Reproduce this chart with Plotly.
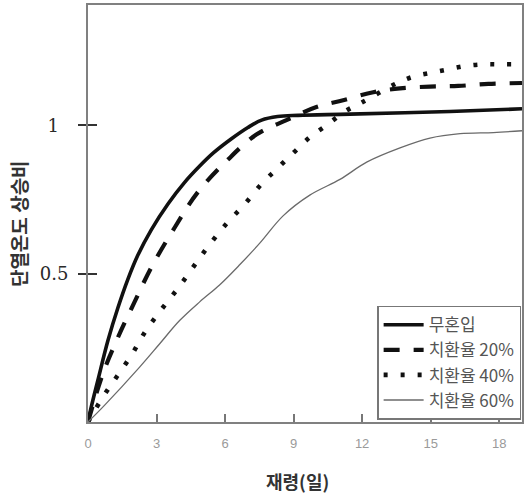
import plotly.graph_objects as go

# ---- data ----
series_names = ["무혼입", "치환율 20%", "치환율 40%", "치환율 60%"]

x_plain = [0, 0.14, 0.43, 0.87, 1.31, 1.74, 2.18, 2.77, 3.50, 4.23, 4.89, 5.50, 6.28, 7.00, 7.60, 8.30, 9.20, 11.46, 15.85, 19.0]
y_plain = [0, 0.050, 0.140, 0.274, 0.385, 0.480, 0.562, 0.648, 0.735, 0.808, 0.863, 0.908, 0.955, 0.993, 1.018, 1.030, 1.034, 1.038, 1.047, 1.056]

x_20 = [0, 0.65, 1.31, 2.04, 2.77, 3.79, 4.81, 6.13, 7.37, 8.69, 10.0, 11.17, 12.49, 13.66, 14.97, 16.21, 17.53, 19.0]
y_20 = [0, 0.163, 0.285, 0.405, 0.521, 0.655, 0.775, 0.885, 0.969, 1.018, 1.062, 1.085, 1.112, 1.125, 1.131, 1.133, 1.140, 1.143]

x_40 = [0, 0.65, 1.28, 1.94, 2.52, 3.21, 3.94, 4.63, 5.33, 6.09, 6.83, 7.58, 8.29, 9.01, 9.71, 10.47, 11.25, 11.98, 13.51, 14.27, 15.05, 15.82, 16.58, 17.31, 18.07, 19.0]
y_40 = [0, 0.084, 0.155, 0.230, 0.306, 0.379, 0.451, 0.525, 0.599, 0.671, 0.732, 0.801, 0.855, 0.909, 0.960, 1.002, 1.047, 1.077, 1.142, 1.165, 1.178, 1.190, 1.201, 1.206, 1.206, 1.206]

x_60 = [0, 0.72, 2.26, 3.13, 4.01, 4.89, 5.76, 6.64, 7.52, 8.54, 9.71, 11.03, 12.20, 13.66, 14.97, 16.29, 17.75, 19.0]
y_60 = [0, 0.056, 0.185, 0.263, 0.342, 0.405, 0.462, 0.530, 0.603, 0.695, 0.765, 0.818, 0.876, 0.924, 0.957, 0.972, 0.976, 0.982]

x_ticks = [0, 3, 6, 9, 12, 15, 18]
y_ticks = [0.5, 1]
y_tick_text = ["0.5", "1\u00a0\u2009"]

x_title = "재령(일)"
y_title = "단열온도 상승비"

# ---- figure ----
fig = go.Figure()
styles = [
    dict(color="#111111", width=3.6, dash="solid"),
    dict(color="#111111", width=4.2, dash="16px,14px"),
    dict(color="#111111", width=4.6, dash="4px,13px"),
    dict(color="#6a6a6a", width=1.3, dash="solid"),
]
for name, xs, ys, st in zip(series_names, [x_plain, x_20, x_40, x_60],
                            [y_plain, y_20, y_40, y_60], styles):
    fig.add_trace(go.Scatter(x=xs, y=ys, mode="lines", name=name,
                             line=dict(shape="spline", smoothing=1.0, **st)))

fig.update_layout(
    width=532, height=495,
    margin=dict(l=88, r=10, t=3, b=73),
    paper_bgcolor="white", plot_bgcolor="white",
    showlegend=True,
    legend=dict(x=0.998, y=0.279, xanchor="right", yanchor="top",
                bgcolor="white", bordercolor="#777777", borderwidth=1.5,
                font=dict(family="Noto Sans CJK KR", size=17, color="#555555"),
                tracegroupgap=0, itemwidth=40),
    xaxis=dict(range=[0, 19], tickvals=x_ticks, ticks="inside", ticklen=8,
               tickwidth=1.5, tickcolor="#777777", showgrid=False, zeroline=False,
               showline=True, linecolor="#808080", linewidth=2, mirror=True,
               ticklabelstandoff=8,
               tickfont=dict(family="Liberation Sans", size=13, color="#9a9a9a")),
    yaxis=dict(range=[0, 1.406], tickvals=y_ticks, ticktext=y_tick_text,
               ticks="outside", ticklen=8, tickwidth=1.8, tickcolor="#333333",
               showgrid=False, zeroline=False, showline=True, linecolor="#808080",
               linewidth=2, mirror=True, ticklabelstandoff=6,
               tickfont=dict(family="DejaVu Serif", size=18, color="#2a2a2a")),
    yaxis2=dict(range=[0, 1.406], overlaying="y", side="left", tickvals=y_ticks,
                ticks="inside", ticklen=9, tickwidth=1.8, tickcolor="#333333",
                showticklabels=False, showgrid=False, zeroline=False, showline=False),
    annotations=[
        dict(text="<b>" + x_title + "</b>", xref="paper", yref="paper",
             x=0.4816, y=-0.141, xanchor="center", yanchor="middle", showarrow=False,
             font=dict(family="Noto Sans CJK KR", size=18, color="#333333")),
        dict(text="<b>" + y_title + "</b>", xref="paper", yref="paper",
             x=-0.1613, y=0.477, xanchor="center", yanchor="middle", showarrow=False,
             textangle=-90,
             font=dict(family="Noto Sans CJK KR", size=19, color="#333333")),
    ],
)
# dummy trace on yaxis2 so the overlay axis is drawn
fig.add_trace(go.Scatter(x=[None], y=[None], yaxis="y2", showlegend=False, hoverinfo="skip"))

fig.write_html("out.html")
